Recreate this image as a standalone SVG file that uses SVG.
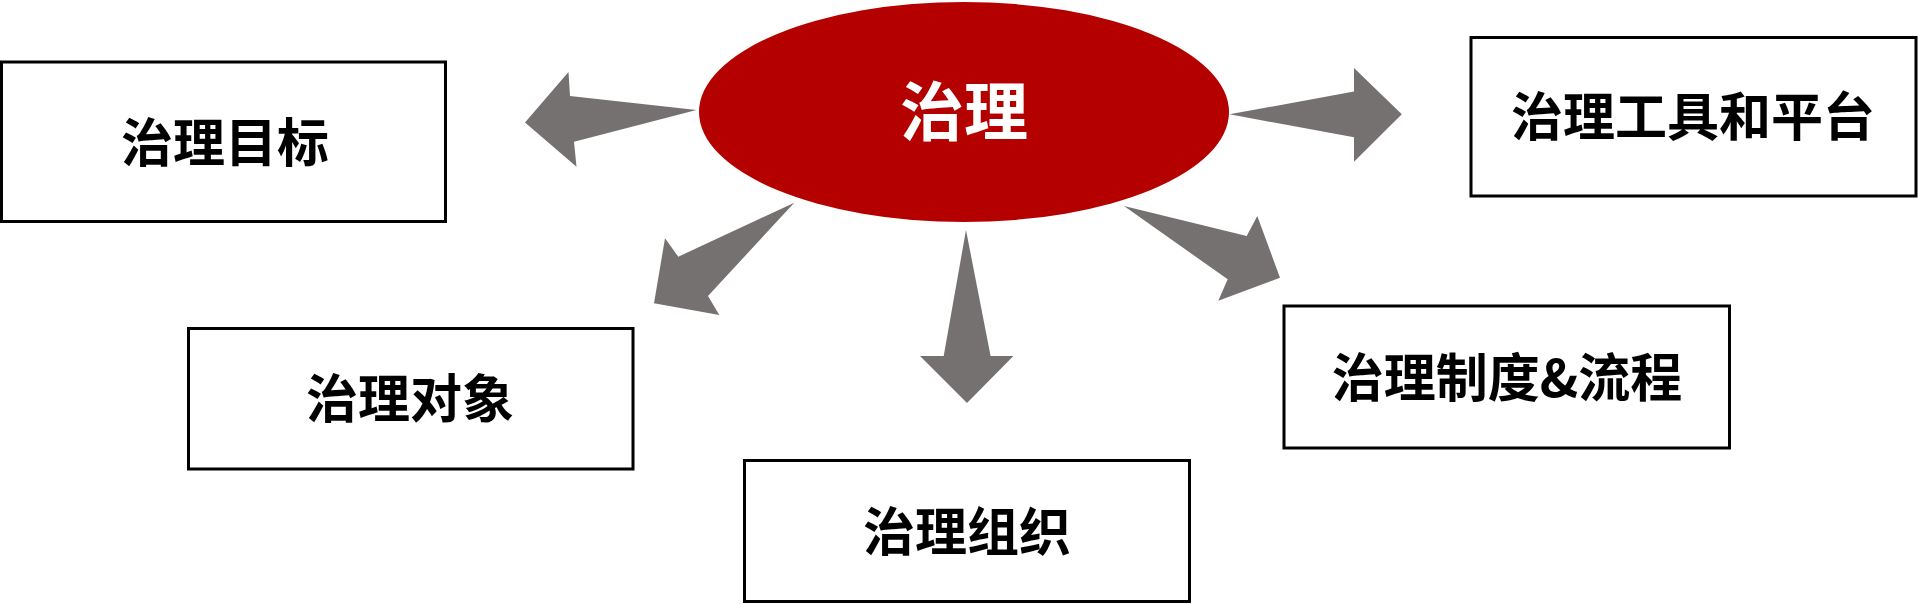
<svg xmlns="http://www.w3.org/2000/svg" width="1919" height="604" viewBox="0 0 1919 604">
<defs>
<style>
.box{fill:#fff;stroke:#000;stroke-width:3}
.lbl{font-family:"Noto Sans CJK SC","Noto Sans",sans-serif;font-weight:bold;font-size:52px;fill:#000;text-anchor:middle;dominant-baseline:central}
.arr{fill:#767171;stroke:none}
</style>
</defs>
<rect width="1919" height="604" fill="#fff"/>
<g id="center">
<ellipse cx="964" cy="112" rx="265" ry="110" fill="#B50000"/>
<text x="964" y="107" class="lbl" style="font-size:64px;fill:#fff">治理</text>
</g>
<g id="connectors">
<polygon class="arr" points="696.5,110 574,141.7 576.5,166.7 525,122.5 568.5,72 570,96"/>
<polygon class="arr" points="1229.5,114.3 1354,91.5 1354,68 1401.8,114.3 1354,161.7 1354,137.3"/>
<polygon class="arr" points="794.3,202.7 708,296 719.3,315 654,303.3 665,238.3 678.3,256.7"/>
<polygon class="arr" points="966,230 990.6,356 1013.4,356 967,403 920,356 943.7,356"/>
<polygon class="arr" points="1124,206 1246.7,236 1257.3,216 1280,277.7 1218.3,300.7 1227.7,279.3"/>
</g>
<g id="goal">
<rect class="box" x="1.5" y="62" width="444" height="159.5"/>
<text x="225" y="139" class="lbl">治理目标</text>
</g>
<g id="tools">
<rect class="box" x="1471" y="37.5" width="445" height="158.5"/>
<text x="1693" y="113" class="lbl">治理工具和平台</text>
</g>
<g id="object">
<rect class="box" x="188.5" y="328.5" width="444.5" height="140.5"/>
<text x="410" y="395" class="lbl">治理对象</text>
</g>
<g id="org">
<rect class="box" x="744.5" y="460.5" width="445" height="141"/>
<text x="967" y="528" class="lbl">治理组织</text>
</g>
<g id="policy">
<rect class="box" x="1284" y="306" width="445.5" height="142"/>
<text x="1507" y="374" class="lbl">治理制度&amp;流程</text>
</g>
</svg>
